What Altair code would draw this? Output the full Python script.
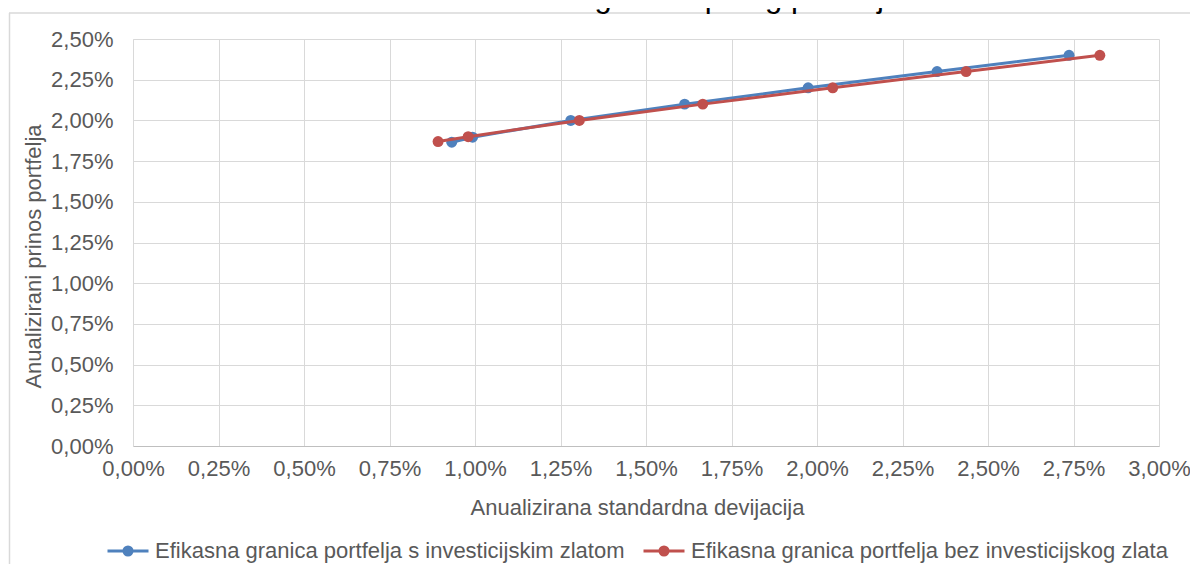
import altair as alt
import pandas as pd

# Series values (percent units)
series_names = [
    "Efikasna granica portfelja s investicijskim zlatom",
    "Efikasna granica portfelja bez investicijskog zlata",
]
blue_sd = [0.932, 0.993, 1.280, 1.613, 1.974, 2.351, 2.737]
blue_ret = [1.866, 1.897, 2.00, 2.10, 2.20, 2.30, 2.40]
red_sd = [0.892, 0.980, 1.305, 1.666, 2.046, 2.436, 2.827]
red_ret = [1.870, 1.900, 2.00, 2.10, 2.20, 2.30, 2.40]

x_ticks = [0, 0.25, 0.5, 0.75, 1.0, 1.25, 1.5, 1.75, 2.0, 2.25, 2.5, 2.75, 3.0]
y_ticks = [0, 0.25, 0.5, 0.75, 1.0, 1.25, 1.5, 1.75, 2.0, 2.25, 2.5]

title_text = "Grafikon 4: Efikasna granica prvog portfelja"
x_title = "Anualizirana standardna devijacija"
y_title = "Anualizirani prinos portfelja"
colors = ["#4F81BD", "#C0504D"]

rows = []
for i in range(len(blue_sd)):
    rows.append({"series": series_names[0], "k": 0, "sd": blue_sd[i], "ret": blue_ret[i]})
for i in range(len(red_sd)):
    rows.append({"series": series_names[1], "k": 1, "sd": red_sd[i], "ret": red_ret[i]})
df = pd.DataFrame(rows)

FONT = "Liberation Sans"
TXT = "#595959"
label_expr = "replace(format(datum.value, '.2f'), '.', ',') + '%'"

x_enc = alt.X(
    "sd:Q",
    scale=alt.Scale(domain=[0, 3], nice=False, zero=True),
    axis=alt.Axis(
        values=x_ticks, labelExpr=label_expr, title=x_title,
        grid=True, gridColor="#D9D9D9", domain=True, domainColor="#BFBFBF",
        ticks=False, labelFlush=False, labelOverlap=False,
        labelFontSize=22, labelColor=TXT, labelFont=FONT, labelPadding=12,
        titleFontSize=22, titleColor=TXT, titleFont=FONT, titleFontWeight="normal",
        titleX=504, titleY=61, titleBaseline="middle", titleAlign="center",
    ),
)
y_enc = alt.Y(
    "ret:Q",
    scale=alt.Scale(domain=[0, 2.5], nice=False, zero=True),
    axis=alt.Axis(
        values=y_ticks, labelExpr=label_expr, title=y_title,
        grid=True, gridColor="#D9D9D9", domain=True, domainColor="#D9D9D9",
        ticks=False, labelFlush=False, labelOverlap=False,
        labelFontSize=22, labelColor=TXT, labelFont=FONT, labelPadding=20,
        titleFontSize=22, titleColor=TXT, titleFont=FONT, titleFontWeight="normal",
        titleX=-100, titleY=217, titleAngle=270, titleBaseline="middle", titleAlign="center",
    ),
)
color_scale = alt.Scale(domain=series_names, range=colors)

# line across the symbol plus concentric rings that read as a filled dot
legend_path = ("M-1,0H1 "
               "M-0.2,0A0.2,0.2 0 1,0 0.2,0A0.2,0.2 0 1,0 -0.2,0 "
               "M-0.1,0A0.1,0.1 0 1,0 0.1,0A0.1,0.1 0 1,0 -0.1,0 "
               "M-0.03,0A0.03,0.03 0 1,0 0.03,0A0.03,0.03 0 1,0 -0.03,0")

legend = alt.Legend(
    title=None, orient="none", direction="horizontal",
    legendX=-27, legendY=490, padding=0,
    symbolType=legend_path, symbolSize=1681, symbolStrokeWidth=2.9,
    symbolOpacity=1, labelFontSize=22, labelColor=TXT, labelFont=FONT,
    labelOffset=5, labelLimit=800, columnPadding=12,
)

layers = []
for k in range(2):
    sub = alt.Chart(df).transform_filter(alt.datum.k == k)
    line = sub.mark_line(strokeWidth=3).encode(
        x=x_enc, y=y_enc,
        color=alt.Color("series:N", scale=color_scale, legend=legend),
    )
    pts = sub.mark_point(filled=True, size=120, opacity=1).encode(
        x=x_enc, y=y_enc,
        color=alt.Color("series:N", scale=color_scale, legend=None),
    )
    layers += [line, pts]

one = alt.Data(values=[{"a": 1}])
border_top = alt.Chart(one).mark_rule(color="#D9D9D9", strokeWidth=1.5).encode(
    x=alt.value(-124), x2=alt.value(1100), y=alt.value(-26)
)
border_left = alt.Chart(one).mark_rule(color="#D9D9D9", strokeWidth=1.5).encode(
    x=alt.value(-123.5), y=alt.value(-26), y2=alt.value(600)
)
title_mark = alt.Chart(one).mark_text(
    text=title_text, fontSize=31, font=FONT, color="#000000",
    align="center", baseline="alphabetic",
).encode(x=alt.value(471), y=alt.value(-32))

chart = alt.layer(border_top, border_left, title_mark, *layers).properties(
    width=1026, height=407,
    autosize=alt.AutoSizeParams(type="none"),
    padding={"left": 125, "top": 31, "right": 31, "bottom": 118},
    background="white",
).configure_view(stroke=None)

chart.save("out.html", embed_options={"renderer": "svg", "actions": False})
